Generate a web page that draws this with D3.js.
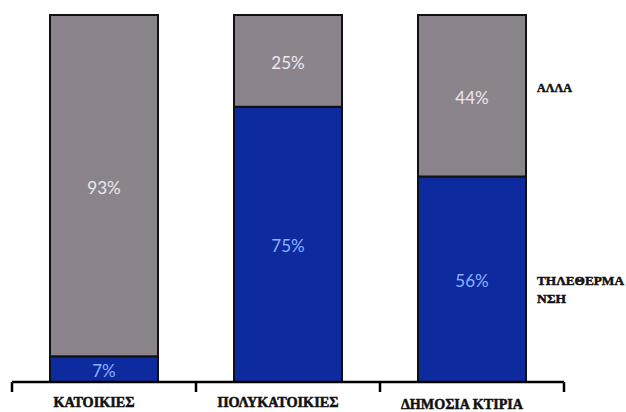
<!DOCTYPE html>
<html><head><meta charset="utf-8">
<script src="https://cdn.jsdelivr.net/npm/d3@7"></script>
<style>html,body{margin:0;padding:0;background:#fff;}svg{display:block;}</style>
</head><body>
<svg id="c" width="626" height="412"></svg>
<script>
const categories = ["ΚΑΤΟΙΚΙΕΣ", "ΠΟΛΥΚΑΤΟΙΚΙΕΣ", "ΔΗΜΟΣΙΑ ΚΤΙΡΙΑ"];
const districtHeating = [7, 75, 56];   // ΤΗΛΕΘΕΡΜΑΝΣΗ
const other = [93, 25, 44];            // ΑΛΛΑ
const seriesNames = [["ΤΗΛΕΘΕΡΜΑ", "ΝΣΗ"], ["ΑΛΛΑ"]];

const svg = d3.select("#c");
const x = d3.scaleBand().domain(categories).range([12, 564]).paddingInner(0.413).paddingOuter(0.2065);
const y = d3.scaleLinear().domain([0, 100]).range([382, 15]);
const step = x.step(), bw = x.bandwidth();

const data = categories.map((c, i) => ({c, a: districtHeating[i], b: other[i]}));
const stack = d3.stack().keys(["a", "b"])(data);
const fills = {a: "#0d2b9f", b: "#8c848d"};
const txt = {a: "#8fb0ff", b: "#ece8ee"};

const g = svg.append("g");
stack.forEach(layer => {
  g.selectAll(null).data(layer).enter().append("rect")
    .attr("x", d => x(d.data.c)).attr("width", bw)
    .attr("y", d => y(d[1])).attr("height", d => y(d[0]) - y(d[1]))
    .attr("fill", fills[layer.key]).attr("stroke", "#111").attr("stroke-width", 2);
  g.selectAll(null).data(layer).enter().append("text")
    .attr("x", d => x(d.data.c) + bw / 2)
    .attr("y", d => (y(d[0]) + y(d[1])) / 2 + 8)
    .attr("text-anchor", "middle")
    .attr("font-family", "Lato, 'Open Sans', sans-serif")
    .attr("font-size", 17)
    .attr("fill", txt[layer.key])
    .text(d => (d[1] - d[0]) + "%");
});

// axis
const axisY = y(0);
const ax = svg.append("g").attr("stroke", "#000").attr("stroke-width", 2.5).attr("fill", "none");
ax.append("line").attr("x1", x.range()[0]).attr("x2", x.range()[1]).attr("y1", axisY).attr("y2", axisY);
const bounds = [x.range()[0]].concat(categories.map(c => x(c) - step * x.paddingInner() / 2 + step));
bounds.forEach(b => ax.append("line").attr("x1", b).attr("x2", b).attr("y1", axisY).attr("y2", axisY + 10));

const catW = [81, 121, 122];
svg.selectAll(".cat").data(categories).enter().append("text")
  .attr("x", d => x(d) + bw / 2 - 10)
  .attr("y", (d, i) => i === 2 ? 409 : 407)
  .attr("text-anchor", "middle")
  .attr("font-family", "'Liberation Serif', 'DejaVu Serif', serif")
  .attr("font-weight", "bold")
  .attr("font-size", 14)
  .attr("textLength", (d, i) => catW[i])
  .attr("lengthAdjust", "spacingAndGlyphs")
  .attr("fill", "#111").attr("stroke", "#111").attr("stroke-width", 0.5)
  .text(d => d);

// series labels at right
const legendY = [[285, 303], [92]];
const legW = [[87, 29], [35]];
seriesNames.forEach((lines, k) => {
  lines.forEach((t, j) => {
    svg.append("text")
      .attr("x", 537).attr("y", legendY[k][j])
      .attr("font-family", "'Liberation Serif', 'DejaVu Serif', serif")
      .attr("font-weight", "bold").attr("font-size", 13).attr("fill", "#111")
      .attr("stroke", "#111").attr("stroke-width", 0.5)
      .attr("textLength", legW[k][j]).attr("lengthAdjust", "spacingAndGlyphs")
      .text(t);
  });
});
</script>
</body></html>
